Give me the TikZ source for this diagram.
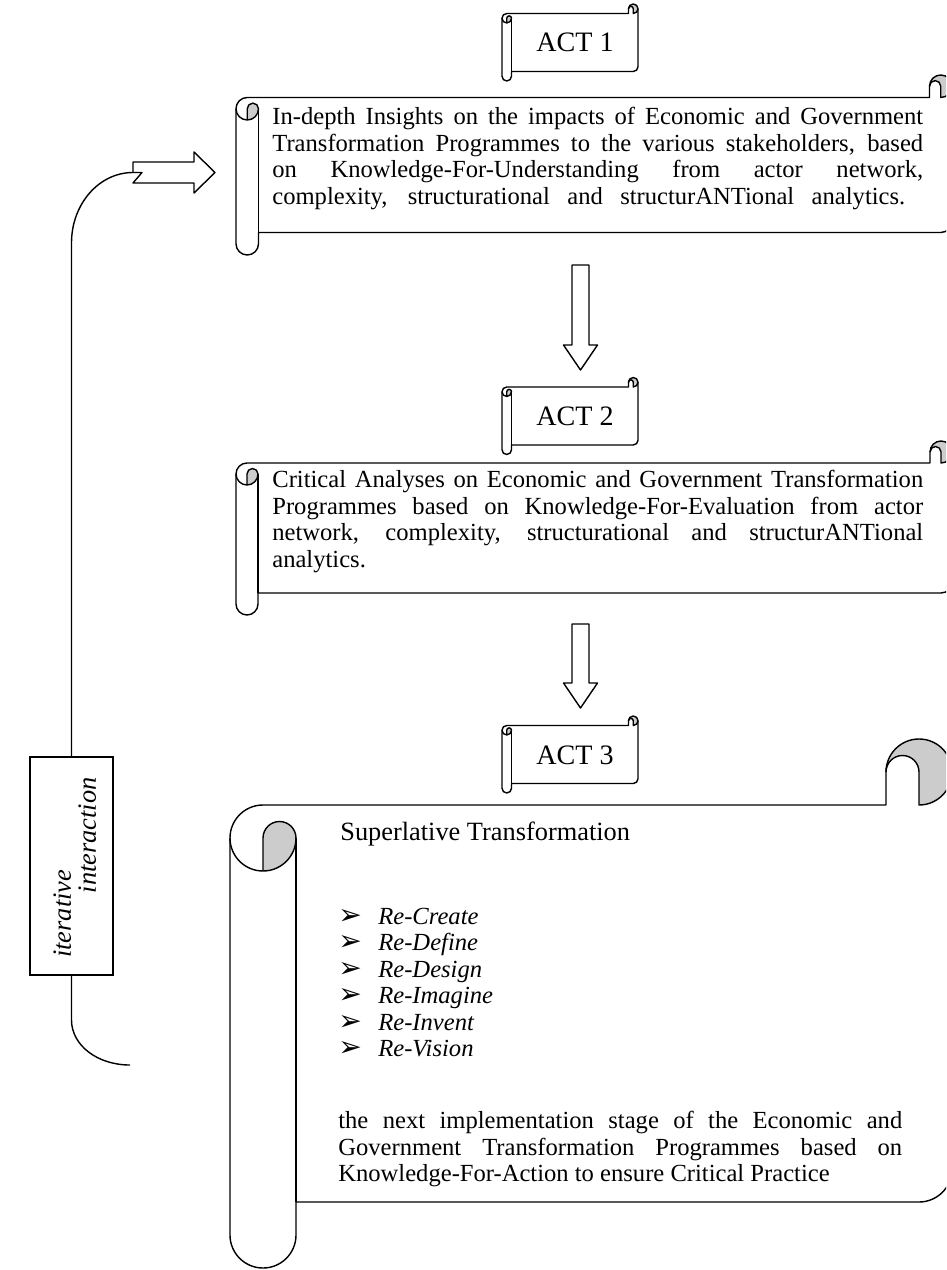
\documentclass[tikz,border=0pt]{standalone}
\usepackage{fontspec}
\setmainfont{Liberation Serif}
\newfontfamily\symfont{DejaVu Sans}

\tikzset{
  scrollline/.style={line width=0.8pt, line join=round},
  curlfill/.style={fill=black!20},
  bodytext/.style={anchor=north west, inner sep=0pt, text width=#1, align=justify, font=\fontsize{14}{15.1}\selectfont},
  acttext/.style={inner sep=0pt, font=\fontsize{16}{18}\selectfont},
  titletext/.style={anchor=base west, inner sep=0pt, font=\fontsize{15}{18}\selectfont},
  itemtext/.style={anchor=base west, inner sep=0pt, font=\fontsize{14}{15.1}\selectfont\itshape},
  bullettext/.style={anchor=base west, inner sep=0pt, font=\symfont\fontsize{16}{16}\selectfont},
  loopline/.style={line width=0.8pt},
}

% horizontal scroll: left, top, right, bottom, curl size
\newcommand\hscroll[5]{%
  \pgfmathsetmacro\scL{#1}%
  \pgfmathsetmacro\scT{#2}%
  \pgfmathsetmacro\scR{#3}%
  \pgfmathsetmacro\scB{#4}%
  \pgfmathsetmacro\scC{#5}%
  \pgfmathsetmacro\scH{#5/2}%
  \pgfmathsetmacro\scQ{#5/4}%
  \fill[curlfill] (\scR-\scH,\scT+\scC) arc[start angle=90,end angle=-180,radius=\scH]
     arc[start angle=180,end angle=360,radius=\scQ] -- cycle;
  \fill[curlfill] (\scL+\scH,\scT+2*\scC) arc[start angle=90,end angle=0,radius=\scH]
     arc[start angle=0,end angle=-180,radius=\scQ] -- cycle;
  \draw[scrollline] (\scL,\scT+\scC+\scH) arc[start angle=180,end angle=270,radius=\scH]
     -- (\scR-\scC,\scT+\scC) -- (\scR-\scC,\scT+\scH)
     arc[start angle=180,end angle=360,radius=\scH]
     -- (\scR,\scB-\scC-\scH) arc[start angle=0,end angle=90,radius=\scH]
     -- (\scL+\scC,\scB-\scC) -- (\scL+\scC,\scB-\scH)
     arc[start angle=0,end angle=180,radius=\scH] -- cycle;
  \draw[scrollline] (\scR,\scT+\scH) arc[start angle=0,end angle=90,radius=\scH]
     -- (\scR-\scH,\scT+\scH) arc[start angle=0,end angle=-180,radius=\scQ];
  \draw[scrollline] (\scL+\scH,\scT+2*\scC) -- (\scL+\scH,\scT+\scC+\scH)
     arc[start angle=180,end angle=360,radius=\scQ]
     arc[start angle=0,end angle=180,radius=\scH];
  \draw[scrollline] (\scL+\scC,\scT+\scC+\scH) -- (\scL+\scC,\scB-\scC);
}

% block arrow pointing down: x, top, tip
\newcommand\blockdown[3]{%
  \draw[scrollline] (#1-8.5,#2) -- (#1+8.5,#2) -- (#1+8.5,#3-25) -- (#1+17,#3-25)
     -- (#1,#3) -- (#1-17,#3-25) -- (#1-8.5,#3-25) -- cycle;
}

\begin{document}
\begin{tikzpicture}[x=0.02cm,y=-0.02cm]
    \useasboundingbox (0,0) rectangle (946,1270);
    \clip (0,0) rectangle (946,1270);

    \hscroll{502}{4}{638}{81}{9.5}
    \node [acttext] (act1) at (575,42) {ACT 1};

    \hscroll{236}{75}{952}{255}{22.5}
    \node [bodytext=13.02cm] (insight) at (272,107) {In-depth Insights on the impacts of Economic and Government\linebreak
      Transformation Programmes to the various stakeholders, based\linebreak
      on Knowledge-For-Understanding from actor network,\linebreak
      \makebox[12.66cm][s]{complexity, structurational and structurANTional analytics.}};

    \blockdown{580.5}{265}{370}

    \hscroll{502}{377.5}{638}{454.5}{9.5}
    \node [acttext] (act2) at (575,416) {ACT 2};

    \hscroll{236}{441}{952}{615}{22}
    \node [bodytext=13.02cm] (critical) at (272,470) {Critical Analyses on Economic and Government Transformation\linebreak
      Programmes based on Knowledge-For-Evaluation from actor\linebreak
      network, complexity, structurational and structurANTional\linebreak
      analytics.};

    \blockdown{580.5}{624}{708}

    \hscroll{502}{716}{638}{793}{9.5}
    \node [acttext] (act3) at (575,755) {ACT 3};

    \hscroll{230}{739}{952}{1268}{66}
    \node [titletext] (superl) at (340,840) {Superlative Transformation};
    \foreach \lbl [count=\i] in {Re-Create,Re-Define,Re-Design,Re-Imagine,Re-Invent,Re-Vision} {
      \node [bullettext] (bul\i) at (338,924+26.5*\i-26.5) {➢};
      \node [itemtext] (item\i) at (378,924+26.5*\i-26.5) {\lbl};
    }
    \node [bodytext=11.28cm] (nextstage) at (338,1111) {the next implementation stage of the Economic and\linebreak
      Government Transformation Programmes based on\linebreak
      Knowledge-For-Action to ensure Critical Practice};

    \node [draw, loopline, minimum width=1.66cm, minimum height=4.36cm] (iter) at (71.5,866) {};
    \node [rotate=90, anchor=north west, inner sep=0pt, align=left, font=\fontsize{15}{14.2}\selectfont\itshape]
      (iterlabel) at (53,958) {iterative\\\hspace*{36.8pt}interaction};

    \coordinate (tail) at (133,172.5);
    \coordinate (loopend) at (130,1065);
    \draw [loopline] (tail) .. controls (99,172.5) and (71.5,204) .. (71.5,243) -- (iter.north);
    \draw [loopline] (iter.south) -- (71.5,1020) .. controls (71.5,1045) and (97,1065) .. (loopend);
    \draw [scrollline] (tail) -- (133,162) -- (194,162) -- (194,152) -- (215,172.5) -- (194,193)
      -- (194,183) -- (133,183) -- (142,172.5) -- cycle;
\end{tikzpicture}
\end{document}
